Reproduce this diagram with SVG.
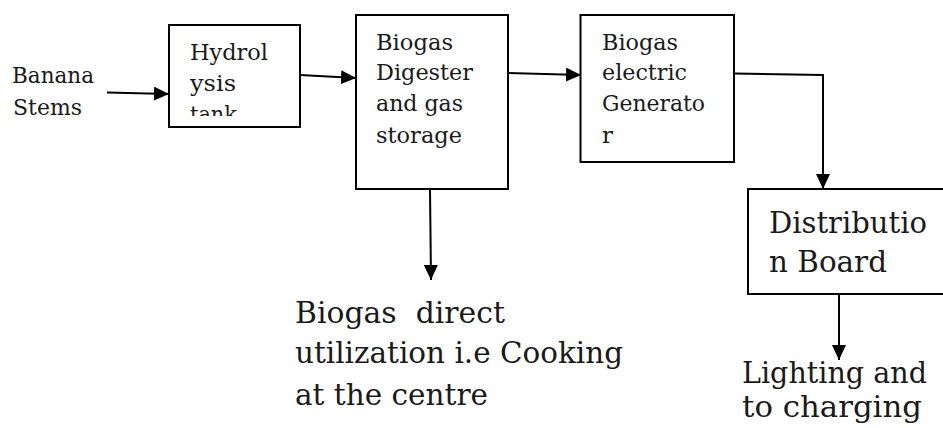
<svg xmlns="http://www.w3.org/2000/svg" width="943" height="428" viewBox="0 0 943 428">
<style>
.box{fill:#ffffff;stroke:#000000;stroke-width:2}
.s{font-family:"DejaVu Serif","Liberation Serif",serif;font-size:23px;fill:#1a1a1a}
.l{font-family:"DejaVu Serif","Liberation Serif",serif;font-size:29.5px;fill:#1a1a1a}
.c{fill:none;stroke:#000000;stroke-width:2}
</style>
<defs>
<marker id="ah" markerUnits="userSpaceOnUse" markerWidth="15" markerHeight="14" refX="15" refY="7" orient="auto">
<path d="M0,0 L15,7 L0,14 z" fill="#000000"/>
</marker>
<clipPath id="hclip"><rect x="169" y="25" width="131" height="91"/></clipPath>
</defs>
<rect x="0" y="0" width="943" height="428" fill="#ffffff"/>

<g id="banana">
<text class="s" x="12" y="83" textLength="82" lengthAdjust="spacingAndGlyphs">Banana</text>
<text class="s" x="13" y="115" textLength="69" lengthAdjust="spacingAndGlyphs">Stems</text>
</g>

<g id="hydrolysis">
<rect class="box" x="169" y="25" width="131" height="102"/>
<g clip-path="url(#hclip)">
<text class="s" x="190" y="60" textLength="78" lengthAdjust="spacingAndGlyphs">Hydrol</text>
<text class="s" x="190" y="91" textLength="46" lengthAdjust="spacingAndGlyphs">ysis</text>
<text class="s" x="190" y="122" textLength="47" lengthAdjust="spacingAndGlyphs">tank</text>
</g>
</g>

<g id="digester">
<rect class="box" x="356" y="15" width="152" height="174"/>
<text class="s" x="376" y="50" textLength="77" lengthAdjust="spacingAndGlyphs">Biogas</text>
<text class="s" x="376" y="80" textLength="97" lengthAdjust="spacingAndGlyphs">Digester</text>
<text class="s" x="376" y="111" textLength="87" lengthAdjust="spacingAndGlyphs">and gas</text>
<text class="s" x="376" y="143" textLength="86" lengthAdjust="spacingAndGlyphs">storage</text>
</g>

<g id="generator">
<rect class="box" x="580.5" y="15" width="153.5" height="147"/>
<text class="s" x="602" y="50" textLength="76" lengthAdjust="spacingAndGlyphs">Biogas</text>
<text class="s" x="602" y="80" textLength="85" lengthAdjust="spacingAndGlyphs">electric</text>
<text class="s" x="602" y="111" textLength="103" lengthAdjust="spacingAndGlyphs">Generato</text>
<text class="s" x="602" y="143">r</text>
</g>

<g id="distribution">
<rect class="box" x="748" y="189" width="200" height="105"/>
<text class="l" x="769" y="233" textLength="158" lengthAdjust="spacingAndGlyphs">Distributio</text>
<text class="l" x="769" y="272" textLength="118" lengthAdjust="spacingAndGlyphs">n Board</text>
</g>

<g id="direct-use">
<text class="l" x="295" y="323" textLength="210" lengthAdjust="spacingAndGlyphs" xml:space="preserve">Biogas  direct</text>
<text class="l" x="295" y="363" textLength="328" lengthAdjust="spacingAndGlyphs">utilization i.e Cooking</text>
<text class="l" x="295" y="405" textLength="193" lengthAdjust="spacingAndGlyphs">at the centre</text>
</g>

<g id="lighting">
<text class="l" x="742" y="383" textLength="185" lengthAdjust="spacingAndGlyphs">Lighting and</text>
<text class="l" x="742" y="417" textLength="180" lengthAdjust="spacingAndGlyphs">to charging</text>
</g>

<g id="connectors">
<path class="c" d="M107,92.5 L169,94" marker-end="url(#ah)"/>
<path class="c" d="M300,75 L356,78" marker-end="url(#ah)"/>
<path class="c" d="M508,73 L581,75" marker-end="url(#ah)"/>
<path class="c" d="M734,73.5 L823,75 L823,189" marker-end="url(#ah)"/>
<path class="c" d="M430,189 L431,280" marker-end="url(#ah)"/>
<path class="c" d="M839,294 L839,360" marker-end="url(#ah)"/>
</g>
</svg>
